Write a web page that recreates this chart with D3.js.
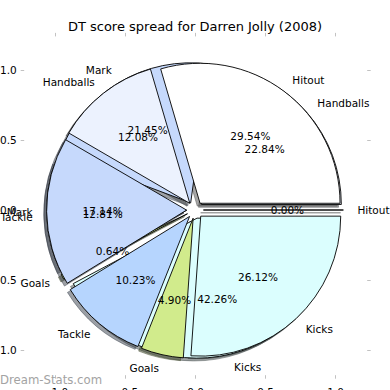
<!DOCTYPE html>
<html><head><meta charset="utf-8">
<script src="https://cdn.jsdelivr.net/npm/d3@7"></script>
<style>body{margin:0;background:#fff} svg{display:block} text{font-family:"DejaVu Sans",sans-serif}</style>
</head><body><svg id="c" width="390" height="390"></svg>
<script>
// ---- data ----
const categories = ["Hitout", "Handballs", "Mark", "Tackle", "Goals", "Kicks"];
const lowerPieValues = [0.00, 22.84, 21.45, 12.81, 0.64, 42.26];   // drawn first (underneath)
const upperPieValues = [29.54, 12.08, 17.14, 10.23, 4.90, 26.12];  // drawn second (on top)
const tickValues = [-1.0, -0.5, 0.0, 0.5, 1.0];
const tickLabels = ["\u22121.0", "\u22120.5", "0.0", "0.5", "1.0"];
const sliceColors = ["#ffffff", "#ecf2fe", "#c6d9fc", "#b6d5fe", "#d1eb8c", "#dbfefe"];
const titleText = "DT score spread for Darren Jolly (2008)";
const watermark = "Dream-Stats.com";

// ---- layout ----
const svg = d3.select("#c");
const x = d3.scaleLinear().domain([-1, 1]).range([55, 335]);
const y = d3.scaleLinear().domain([-1, 1]).range([350, 70]);
const R = x(1) - x(0);
const cx = x(0), cy = y(0);
const explode = 0.06, labelDist = 1.1, pctDist = 0.6, shadowOff = 0.02;

svg.append("rect").attr("width", 390).attr("height", 390).attr("fill", "#fff");

// axes (ticks only, no spines)
const xl = -1.22, xr = 1.23, yt = 1.24, yb = -1.18;
const tickCol = "#bbbbbb";
function styleAxis(g, showLabels) {
  g.select(".domain").remove();
  g.selectAll(".tick line").attr("stroke", tickCol).attr("stroke-width", 0.9);
  g.selectAll(".tick text").attr("fill", "#000").style("font-size", "10.5px")
    .style("font-family", '"DejaVu Sans",sans-serif');
  if (!showLabels) g.selectAll(".tick text").remove();
}
const fmt = (d) => tickLabels[tickValues.indexOf(d)];
svg.append("g").attr("transform", `translate(${x(xl)},0)`)
  .call(d3.axisLeft(y).tickValues(tickValues).tickFormat(fmt).tickSize(3.5).tickPadding(4))
  .call(g => styleAxis(g, true));
svg.append("g").attr("transform", `translate(${x(xr)},0)`)
  .call(d3.axisRight(y).tickValues(tickValues).tickSize(3.5))
  .call(g => styleAxis(g, false));
svg.append("g").attr("transform", `translate(0,${y(yt)})`)
  .call(d3.axisTop(x).tickValues(tickValues).tickSize(3.5))
  .call(g => styleAxis(g, false));
svg.append("g").attr("transform", `translate(0,${y(yb)})`)
  .call(d3.axisBottom(x).tickValues(tickValues).tickFormat(fmt).tickSize(3.5).tickPadding(10))
  .call(g => styleAxis(g, true));

// pies
const pie = d3.pie().sort(null).value(d => d)
  .startAngle(Math.PI / 2).endAngle(Math.PI / 2 - 2 * Math.PI);
const arc = d3.arc().innerRadius(0).outerRadius(R);

function build(values) {
  return pie(values).map((a, i) => {
    const m = (a.startAngle + a.endAngle) / 2;
    const ux = Math.sin(m), uy = -Math.cos(m);
    return {
      a, i, m, ux, uy,
      ox: cx + explode * R * ux,
      oy: cy + explode * R * uy,
      pct: values[i]
    };
  });
}
const lower = build(lowerPieValues);
const upper = build(upperPieValues);

const shadeCol = (c) => {
  const r = d3.rgb(c);
  return d3.rgb(r.r * 0.3, r.g * 0.3, r.b * 0.3).toString();
};

const gShadow = svg.append("g");
[lower, upper].forEach(set => {
  gShadow.selectAll(null).data(set).enter().append("path")
    .attr("d", d => arc(d.a))
    .attr("transform", d => `translate(${d.ox - shadowOff * R},${d.oy + shadowOff * R})`)
    .attr("fill", d => shadeCol(sliceColors[d.i])).attr("fill-opacity", 0.5)
    .attr("stroke", d => shadeCol(sliceColors[d.i])).attr("stroke-opacity", 0.5)
    .attr("stroke-width", 0.9).attr("stroke-linejoin", "round");
});
[lower, upper].forEach(set => {
  svg.append("g").selectAll(null).data(set).enter().append("path")
    .attr("d", d => arc(d.a))
    .attr("transform", d => `translate(${d.ox},${d.oy})`)
    .attr("fill", d => sliceColors[d.i])
    .attr("stroke", "#000").attr("stroke-width", 0.9).attr("stroke-linejoin", "round");
});
const gText = svg.append("g").style("font-size", "10.5px").attr("fill", "#000");
[lower, upper].forEach(set => {
  gText.selectAll(null).data(set).enter().append("text")
    .attr("x", d => d.ox + labelDist * R * d.ux)
    .attr("y", d => d.oy + labelDist * R * d.uy)
    .attr("dy", "0.36em")
    .attr("text-anchor", d => d.ux > 1e-9 ? "start" : "end")
    .text(d => categories[d.i]);
  gText.selectAll(null).data(set).enter().append("text")
    .attr("x", d => d.ox + pctDist * R * d.ux)
    .attr("y", d => d.oy + pctDist * R * d.uy)
    .attr("dy", "0.36em")
    .attr("text-anchor", "middle")
    .text(d => d.pct.toFixed(2) + "%");
});

// title
svg.append("text").attr("x", 195).attr("y", 26).attr("dy", "0.36em")
  .attr("text-anchor", "middle").style("font-size", "13px").attr("fill", "#000")
  .text(titleText);

// watermark
svg.append("text").attr("x", 0).attr("y", 380).attr("dy", "0.36em")
  .style("font-size", "11.7px").attr("fill", "#a3a3a3")
  .text(watermark);
</script></body></html>
